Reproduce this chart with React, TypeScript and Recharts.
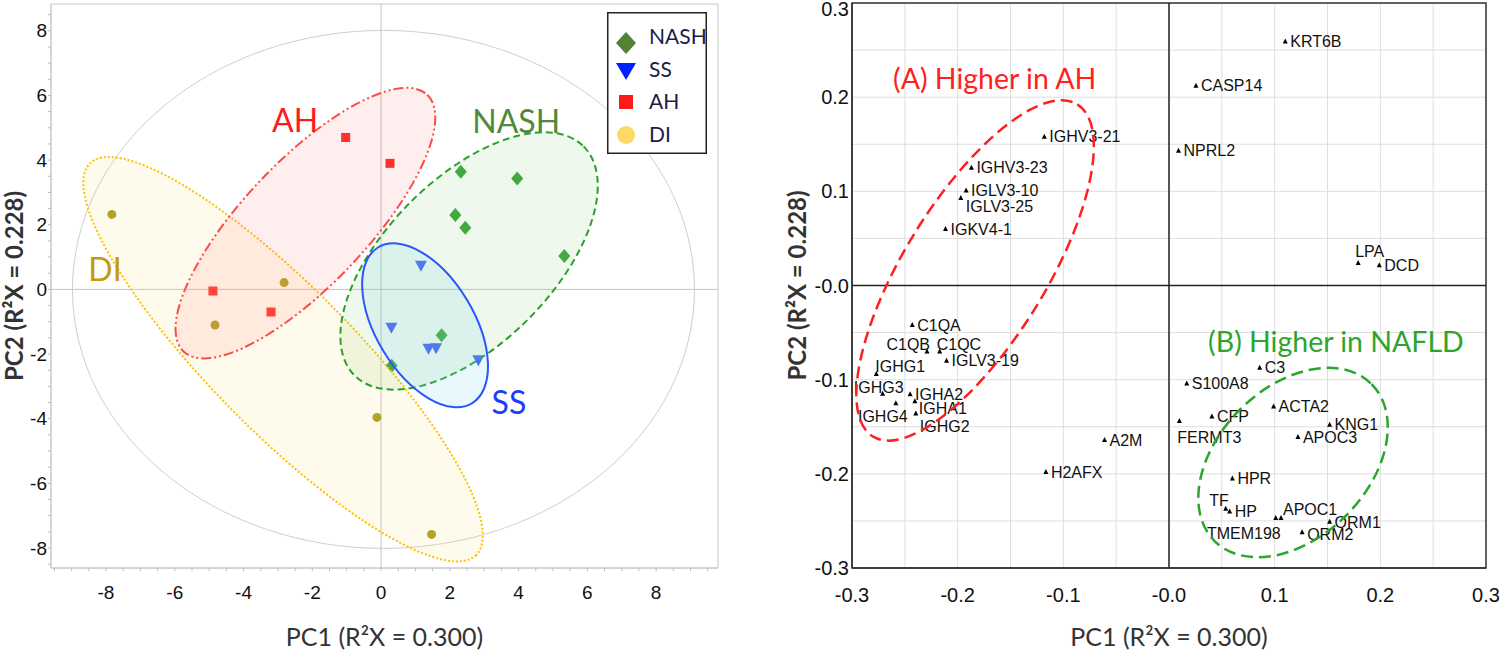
import React from "react";
import {
    Legend,
    ReferenceArea,
    ReferenceDot,
    ReferenceLine,
    CartesianGrid,
    Scatter,
    ScatterChart,
    XAxis,
    YAxis,
} from "recharts";

// ---- score plot (PC1 / PC2 per group)
const NASH_PC1 = [2.32, 3.96, 2.16, 2.45, 5.33, 1.76, 0.31];
const NASH_PC2 = [3.64, 3.43, 2.3, 1.91, 1.03, -1.42, -2.36];
const SS_PC1 = [1.16, 0.3, 1.38, 1.6, 2.83];
const SS_PC2 = [0.73, -1.19, -1.84, -1.82, -2.19];
const AH_PC1 = [-1.03, 0.26, -4.89, -3.2];
const AH_PC2 = [4.7, 3.9, -0.05, -0.7];
const DI_PC1 = [-7.83, -2.82, -4.83, -0.12, 1.47];
const DI_PC2 = [2.32, 0.21, -1.1, -3.96, -7.58];

const GROUPS = ["NASH", "SS", "AH", "DI"];

// ---- loading plot
const GENES = [
    "KRT6B", "CASP14", "NPRL2", "IGHV3-21", "IGHV3-23", "IGLV3-10", "IGLV3-25",
    "IGKV4-1", "LPA", "DCD", "C1QA", "C1QB", "C1QC", "IGLV3-19", "IGHG1",
    "IGHG3", "IGHA2", "IGHG4", "IGHA1", "IGHG2", "A2M", "H2AFX", "C3",
    "S100A8", "ACTA2", "CFP", "FERMT3", "KNG1", "APOC3", "HPR", "TF", "HP",
    "APOC1", "TMEM198", "ORM1", "ORM2",
];
const LOAD_PC1 = [
    0.11, 0.0255, 0.009, -0.118, -0.187, -0.192, -0.197,
    -0.2115, 0.179, 0.199, -0.243, -0.229, -0.217, -0.2105, -0.277,
    -0.271, -0.245, -0.2585, -0.2405, -0.2396, -0.061, -0.1165, 0.0858,
    0.0168, 0.099, 0.0406, 0.0098, 0.152, 0.122, 0.06, 0.0537, 0.0574,
    0.106, 0.101, 0.152, 0.126,
];
const LOAD_PC2 = [
    0.259, 0.212, 0.143, 0.158, 0.125, 0.101, 0.093,
    0.06, 0.024, 0.0216, -0.042, -0.07, -0.07, -0.08, -0.094,
    -0.115, -0.1155, -0.125, -0.123, -0.136, -0.164, -0.198, -0.0873,
    -0.104, -0.1286, -0.139, -0.144, -0.148, -0.161, -0.205, -0.237, -0.24,
    -0.247, -0.247, -0.251, -0.262,
];

const SCORE_X_TICKS = Array.from({ length: 39 }, (_, i) => -9.5 + i * 0.5);
const SCORE_Y_TICKS = Array.from({ length: 35 }, (_, i) => -8.5 + i * 0.5);
const LOAD_TICKS = [
    -0.3, -0.25, -0.2, -0.15, -0.1, -0.05, 0, 0.05, 0.1, 0.15, 0.2, 0.25, 0.3,
];

// label placement next to the loading markers: [dx, dy, anchor]
const LABEL_POS: Record<string, [number, number, string]> = {
    LPA: [-3, -12, "start"],
    C1QB: [3, -7, "end"],
    C1QC: [-3, -7, "start"],
    IGHG1: [-1, -8, "start"],
    IGHG3: [-4, -6, "middle"],
    IGHG4: [-13, 13, "middle"],
    IGHA1: [4, 7, "start"],
    IGHG2: [4, 13, "start"],
    "IGLV3-25": [5, 8, "start"],
    FERMT3: [-2, 16, "start"],
    TF: [3, -8, "end"],
    APOC1: [2, -9, "start"],
    TMEM198: [5, 15, "end"],
    ORM1: [5, 1, "start"],
    ORM2: [5, 2, "start"],
};

const ARIAL = "'Liberation Sans', Arial, sans-serif";
const CALIBRI = "Lato, 'Open Sans', sans-serif";

const toPoints = (xs: number[], ys: number[]) =>
    xs.map((x, i) => ({ x, y: ys[i] }));

const nashData = toPoints(NASH_PC1, NASH_PC2);
const ssData = toPoints(SS_PC1, SS_PC2);
const ahData = toPoints(AH_PC1, AH_PC2);
const diData = toPoints(DI_PC1, DI_PC2);
const geneData = GENES.map((name, i) => ({
    name,
    x: LOAD_PC1[i],
    y: LOAD_PC2[i],
}));

// ---- shapes
const Diamond = (p: any) => (
    <polygon
        points={`${p.cx},${p.cy - 7} ${p.cx + 6},${p.cy} ${p.cx},${p.cy + 7} ${p.cx - 6},${p.cy}`}
        fill="#36a336"
    />
);
const TriDown = (p: any) => (
    <polygon
        points={`${p.cx - 6},${p.cy - 5} ${p.cx + 6},${p.cy - 5} ${p.cx},${p.cy + 6}`}
        fill="#3a55ff"
    />
);
const Square = (p: any) => (
    <rect x={p.cx - 4.5} y={p.cy - 4.5} width={9} height={9} fill="#ff2424" />
);
const Dot = (p: any) => <circle cx={p.cx} cy={p.cy} r={4.5} fill="#a69a1c" />;

const GeneMark = (p: any) => {
    const name = p.payload.name;
    const [dx, dy, anchor] = LABEL_POS[name] || [5, 0, "start"];
    return (
        <g>
            <polygon
                points={`${p.cx},${p.cy - 3} ${p.cx - 2.5},${p.cy + 2} ${p.cx + 2.5},${p.cy + 2}`}
                fill="#000"
            />
            <text
                x={p.cx + dx}
                y={p.cy + dy}
                dy="0.35em"
                textAnchor={anchor as any}
                fontSize={16}
                fontFamily={ARIAL}
                fill="#111"
            >
                {name}
            </text>
        </g>
    );
};

const ellipse =
    (rx: number, ry: number, deg: number, style: any) => (p: any) =>
        (
            <ellipse
                cx={p.cx}
                cy={p.cy}
                rx={rx}
                ry={ry}
                transform={`rotate(${deg} ${p.cx} ${p.cy})`}
                {...style}
            />
        );

const caption = (label: string, color: string, size: number) => (p: any) =>
    (
        <text
            x={p.cx}
            y={p.cy}
            dy="0.35em"
            textAnchor="middle"
            fill={color}
            fontSize={size}
            fontFamily={CALIBRI}
        >
            {label}
        </text>
    );

// ---- ticks
const ScoreTickX = ({ x, y, payload }: any) => {
    const v = payload.value;
    if (Math.abs(v % 2) > 1e-6) return <g />;
    return (
        <text x={x} y={y} dy="0.71em" textAnchor="middle" fontSize={19} fontFamily={ARIAL} fill="#111">
            {v}
        </text>
    );
};
const ScoreTickY = ({ x, y, payload }: any) => {
    const v = payload.value;
    if (Math.abs(v % 2) > 1e-6) return <g />;
    return (
        <text x={x} y={y} dy="0.35em" textAnchor="end" fontSize={19} fontFamily={ARIAL} fill="#111">
            {v}
        </text>
    );
};
const fmtLoad = (v: number) => {
    if (Math.abs(v * 10 - Math.round(v * 10)) > 1e-6) return null;
    return v === 0 ? "-0.0" : v.toFixed(1);
};
const LoadTickX = ({ x, y, payload }: any) => {
    const t = fmtLoad(payload.value);
    if (!t) return <g />;
    return (
        <text x={x} y={y} dy="0.71em" textAnchor="middle" fontSize={20} fontFamily={ARIAL} fill="#111">
            {t}
        </text>
    );
};
const LoadTickY = ({ x, y, payload }: any) => {
    const t = fmtLoad(payload.value);
    if (!t) return <g />;
    return (
        <text x={x} y={Math.max(y, 9)} dy="0.35em" textAnchor="end" fontSize={20} fontFamily={ARIAL} fill="#111">
            {t}
        </text>
    );
};

const LEGEND_ICONS = [
    <polygon key="n" points="19,20 29,31 19,42 9,31" fill="#548235" />,
    <polygon key="s" points="9,51 29,51 19,68" fill="#0022ff" />,
    <rect key="a" x={12} y={83} width={14} height={14} fill="#ff1a1a" />,
    <circle key="d" cx={19} cy={123} r={9} fill="#ffd966" />,
];
const LEGEND_TEXT_Y = [25, 58, 90, 123];

const renderLegend = () => (
    <svg width={100} height={142} style={{ display: "block" }}>
        <rect x={0.75} y={0.75} width={98.5} height={140.5} fill="#fff" stroke="#222" strokeWidth={1.5} />
        {GROUPS.map((g, i) => (
            <g key={g}>
                {LEGEND_ICONS[i]}
                <text x={42} y={LEGEND_TEXT_Y[i]} dy="0.35em" fontSize={21} fontFamily={CALIBRI} fill="#1c1c48">
                    {g}
                </text>
            </g>
        ))}
    </svg>
);

const axisTitle = {
    fontFamily: CALIBRI,
    fontSize: 25,
    fill: "#333",
};
const yTitle = { ...axisTitle, fontSize: 24, fontWeight: 700, textAnchor: "middle" };

const ScorePlot = () => (
    <ScatterChart width={730} height={651} margin={{ top: 4, right: 12, bottom: 0, left: 0 }}>
        <XAxis
            type="number"
            dataKey="x"
            domain={[-9.6, 9.8]}
            ticks={SCORE_X_TICKS}
            interval={0}
            allowDataOverflow
            height={83}
            tickSize={3}
            tickMargin={15}
            tick={<ScoreTickX />}
            tickLine={{ stroke: "#bbb" }}
            axisLine={{ stroke: "#c8c8c8" }}
            label={{ value: "PC1 (R²X = 0.300)", position: "insideBottom", offset: 5, style: axisTitle }}
        />
        <YAxis
            type="number"
            dataKey="y"
            domain={[-8.62, 8.83]}
            ticks={SCORE_Y_TICKS}
            interval={0}
            allowDataOverflow
            width={51}
            tickSize={3}
            tickMargin={1}
            tick={<ScoreTickY />}
            tickLine={{ stroke: "#bbb" }}
            axisLine={{ stroke: "#c8c8c8" }}
            label={{
                value: "PC2 (R²X = 0.228)",
                angle: -90,
                position: "insideLeft",
                offset: 14,
                style: yTitle,
            }}
        />
        <ReferenceArea x1={-9.6} x2={9.8} y1={-8.62} y2={8.83} fill="none" stroke="#c8c8c8" />
        <ReferenceLine x={0} stroke="#c4c4c4" />
        <ReferenceLine y={0} stroke="#c4c4c4" />
        <Scatter name="NASH" data={nashData} shape={Diamond} isAnimationActive={false} />
        <Scatter name="SS" data={ssData} shape={TriDown} isAnimationActive={false} />
        <Scatter name="AH" data={ahData} shape={Square} isAnimationActive={false} />
        <Scatter name="DI" data={diData} shape={Dot} isAnimationActive={false} />
        <ReferenceDot x={0.07} y={0} shape={ellipse(311, 259, 0, { fill: "none", stroke: "#cfcfcf", strokeWidth: 1 })} />
        <ReferenceDot
            x={-2.85}
            y={-2.16}
            shape={ellipse(275, 72, 45.4, {
                fill: "#ffe27a",
                fillOpacity: 0.14,
                stroke: "#ffc000",
                strokeWidth: 2,
                strokeDasharray: "2 2",
            })}
        />
        <ReferenceDot
            x={-2.2}
            y={2.05}
            shape={ellipse(177, 62, -46.5, {
                fill: "#ff7a7a",
                fillOpacity: 0.13,
                stroke: "#ff4a4a",
                strokeWidth: 2,
                strokeDasharray: "10 3 2 3 2 3",
            })}
        />
        <ReferenceDot
            x={2.56}
            y={0.88}
            shape={ellipse(162, 83, -45, {
                fill: "#8fd07a",
                fillOpacity: 0.14,
                stroke: "#2ca02c",
                strokeWidth: 2,
                strokeDasharray: "7 4",
            })}
        />
        <ReferenceDot
            x={1.28}
            y={-1.11}
            shape={ellipse(91, 49, 59, {
                fill: "#7fd8f0",
                fillOpacity: 0.18,
                stroke: "#2a55ff",
                strokeWidth: 2,
            })}
        />
        <ReferenceDot x={-2.5} y={5.23} shape={caption("AH", "#ff1a1a", 32)} />
        <ReferenceDot x={3.93} y={5.17} shape={caption("NASH", "#4f8a3a", 32)} />
        <ReferenceDot x={-8.03} y={0.62} shape={caption("DI", "#c49a0c", 32)} />
        <ReferenceDot x={3.72} y={-3.51} shape={caption("SS", "#1a3cff", 32)} />
        <Legend
            content={renderLegend}
            layout="vertical"
            align="center"
            verticalAlign="middle"
            wrapperStyle={{ position: "absolute", left: 607, top: 12, width: 100, height: 142 }}
        />
    </ScatterChart>
);

const LoadingPlot = () => (
    <ScatterChart width={760} height={651} margin={{ top: 3, right: 14, bottom: 0, left: 0 }}>
        <CartesianGrid stroke="#dedede" />
        <XAxis
            type="number"
            dataKey="x"
            domain={[-0.3, 0.3]}
            ticks={LOAD_TICKS}
            interval={0}
            allowDataOverflow
            height={83}
            tickSize={0}
            tickMargin={20}
            tick={<LoadTickX />}
            axisLine={{ stroke: "#333", strokeWidth: 1.5 }}
            label={{ value: "PC1 (R²X = 0.300)", position: "insideBottom", offset: 5, style: axisTitle }}
        />
        <YAxis
            type="number"
            dataKey="y"
            domain={[-0.3, 0.3]}
            ticks={LOAD_TICKS}
            interval={0}
            allowDataOverflow
            width={112}
            tickSize={0}
            tickMargin={3}
            tick={<LoadTickY />}
            axisLine={{ stroke: "#333", strokeWidth: 1.5 }}
            label={{
                value: "PC2 (R²X = 0.228)",
                angle: -90,
                position: "insideLeft",
                offset: 57,
                style: yTitle,
            }}
        />
        <ReferenceArea x1={-0.3} x2={0.3} y1={-0.3} y2={0.3} fill="none" stroke="#333" strokeWidth={1.5} />
        <ReferenceLine x={0} stroke="#222" strokeWidth={1.5} />
        <ReferenceLine y={0} stroke="#222" strokeWidth={1.5} />
        <Scatter data={geneData} shape={GeneMark} isAnimationActive={false} />
        <ReferenceDot
            x={-0.1835}
            y={0.016}
            shape={ellipse(195, 71, -58.4, {
                fill: "none",
                stroke: "#ff1f1f",
                strokeWidth: 2.5,
                strokeDasharray: "12 6",
            })}
        />
        <ReferenceDot
            x={0.1174}
            y={-0.188}
            shape={ellipse(111, 75, -45, {
                fill: "none",
                stroke: "#2ca52c",
                strokeWidth: 2.5,
                strokeDasharray: "12 6",
            })}
        />
        <ReferenceDot x={-0.165} y={0.219} shape={caption("(A) Higher in AH", "#ff1f1f", 28.5)} />
        <ReferenceDot x={0.158} y={-0.0596} shape={caption("(B) Higher in NAFLD", "#2ca52c", 28.5)} />
    </ScatterChart>
);

export default function App() {
    return (
        <div
            style={{
                position: "absolute",
                left: 0,
                top: 0,
                width: 1500,
                height: 651,
                background: "#fff",
            }}
        >
            <div style={{ position: "absolute", left: 0, top: 0 }}>
                <ScorePlot />
            </div>
            <div style={{ position: "absolute", left: 740, top: 0 }}>
                <LoadingPlot />
            </div>
        </div>
    );
}
